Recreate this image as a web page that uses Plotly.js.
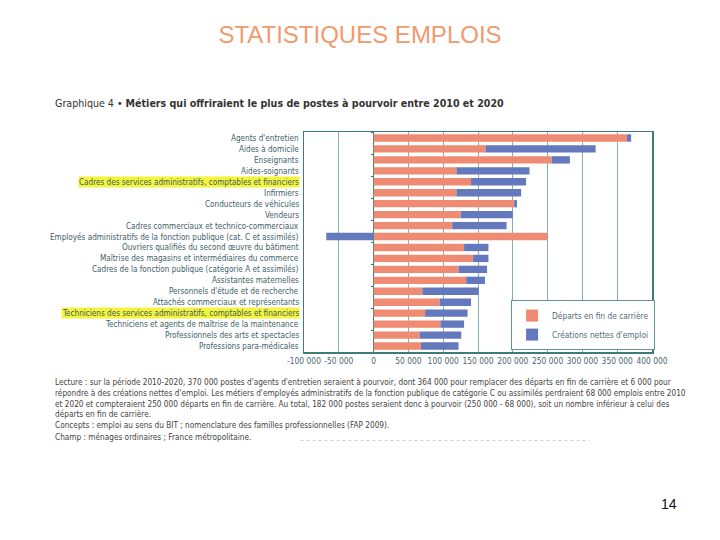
<!DOCTYPE html>
<html>
<head>
<meta charset="utf-8">
<script src="https://cdn.plot.ly/plotly-3.0.1.min.js"></script>
<style>html,body{margin:0;padding:0;background:#fff;}#chart{width:720px;height:540px;}</style>
</head>
<body>
<div id="chart"></div>
<script>
const categories = [
  "Agents d'entretien",
  "Aides à domicile",
  "Enseignants",
  "Aides-soignants",
  "Cadres des services administratifs, comptables et financiers",
  "Infirmiers",
  "Conducteurs de véhicules",
  "Vendeurs",
  "Cadres commerciaux et technico-commerciaux",
  "Employés administratifs de la fonction publique (cat. C et assimilés)",
  "Ouvriers qualifiés du second œuvre du bâtiment",
  "Maîtrise des magasins et intermédiaires du commerce",
  "Cadres de la fonction publique (catégorie A et assimilés)",
  "Assistantes maternelles",
  "Personnels d'étude et de recherche",
  "Attachés commerciaux et représentants",
  "Techniciens des services administratifs, comptables et financiers",
  "Techniciens et agents de maîtrise de la maintenance",
  "Professionnels des arts et spectacles",
  "Professions para-médicales"
];
const highlighted = [
  "Cadres des services administratifs, comptables et financiers",
  "Techniciens des services administratifs, comptables et financiers"
];
const departs = [364000, 161000, 256000, 119000, 140000, 119000, 202000, 125000, 113000, 250000,
                 130000, 143000, 122000, 133000, 70000, 95000, 74000, 96000, 66000, 68000];
const creations = [6000, 158000, 26000, 105000, 79000, 93000, 4000, 75000, 78000, -68000,
                   35000, 22000, 41000, 27000, 81000, 45000, 61000, 34000, 60000, 54000];
const seriesNames = ["Départs en fin de carrière", "Créations nettes d'emploi"];
const tickVals = [-100000, -50000, 0, 50000, 100000, 150000, 200000, 250000, 300000, 350000, 400000];
const tickLabels = ["-100 000", "-50 000", "0", "50 000", "100 000", "150 000", "200 000", "250 000", "300 000", "350 000", "400 000"];

const slideTitle = "STATISTIQUES EMPLOIS";
const chartTitle = "Graphique 4 • <b>Métiers qui offriraient le plus de postes à pourvoir entre 2010 et 2020</b>";
const notes = [
  "Lecture : sur la période 2010-2020, 370 000 postes d'agents d'entretien seraient à pourvoir, dont 364 000 pour remplacer des départs en fin de carrière et 6 000 pour",
  "répondre à des créations nettes d'emploi. Les métiers d'employés administratifs de la fonction publique de catégorie C ou assimilés perdraient 68 000 emplois entre 2010",
  "et 2020 et compteraient 250 000 départs en fin de carrière. Au total, 182 000 postes seraient donc à pourvoir (250 000 - 68 000), soit un nombre inférieur à celui des",
  "départs en fin de carrière.",
  "Concepts : emploi au sens du BIT ; nomenclature des familles professionnelles (FAP 2009).",
  "Champ : ménages ordinaires ; France métropolitaine."
];
const pageNumber = "14";

const narrow = "'DejaVu Sans Condensed', 'Liberation Sans Narrow', sans-serif";
const labelColor = "#3d6068";
const axisColor = "#3f7c76";
const notePix = [382, 393, 404, 414, 425, 437];
const xMin = -100000, xMax = 400000;

const traces = [
  {type: "bar", orientation: "h", name: seriesNames[0], y: categories, x: departs,
   marker: {color: "#EE8B72", line: {width: 0}}},
  {type: "bar", orientation: "h", name: seriesNames[1], y: categories, x: creations,
   marker: {color: "#6478BD", line: {width: 0}}},
  // invisible helper so the tick axis on the zero line is drawn
  {type: "scatter", mode: "markers", y: categories, x: departs, yaxis: "y2",
   marker: {size: 1, opacity: 0}, showlegend: false, hoverinfo: "skip"}
];

const annotations = categories.map(c => ({
  xref: "paper", yref: "y", x: -0.012, y: c, xanchor: "right", yanchor: "middle",
  text: c, showarrow: false, borderpad: 0,
  bgcolor: highlighted.includes(c) ? "#F4F43C" : "rgba(0,0,0,0)",
  font: {family: narrow, size: 8.1, color: labelColor}
}));

annotations.push({
  xref: "paper", yref: "paper", x: -0.7213, y: 1.132, xanchor: "left", yanchor: "middle",
  text: chartTitle, showarrow: false,
  font: {family: narrow, size: 10.6, color: "#333333"}
});
notes.forEach((t, i) => annotations.push({
  xref: "paper", yref: "paper", x: -0.7213, y: (352 - notePix[i]) / 220, xanchor: "left", yanchor: "middle",
  align: "left", text: t, showarrow: false,
  font: {family: narrow, size: 8.2, color: "#444444"}
}));
annotations.push({
  xref: "paper", yref: "paper", x: 1.05, y: -0.69, xanchor: "center", yanchor: "middle",
  text: pageNumber, showarrow: false,
  font: {family: "'Liberation Sans', Arial, sans-serif", size: 14, color: "#111111"}
});

const layout = {
  width: 720, height: 540,
  paper_bgcolor: "#ffffff", plot_bgcolor: "#ffffff",
  margin: {l: 304, r: 68, t: 132, b: 188},
  title: {text: slideTitle, x: 0.5, xanchor: "center", xref: "container", y: 1 - 35/540, yref: "container", yanchor: "middle",
          font: {family: "'Liberation Sans', Arial, sans-serif", size: 24, color: "#F09A6E"}},
  barmode: "relative", bargap: 0.33,
  showlegend: true,
  legend: {x: 0.595, y: 0.236, xanchor: "left", yanchor: "top", traceorder: "normal",
           bgcolor: "#ffffff", bordercolor: "#5f9590", borderwidth: 1,
           font: {family: narrow, size: 8.3, color: "#556b73"}, itemwidth: 30, tracegroupgap: 0},
  xaxis: {range: [xMin, xMax], tickvals: tickVals, ticktext: tickLabels, tickangle: 0,
          showgrid: true, gridcolor: "#86aeab", gridwidth: 1,
          zeroline: true, zerolinecolor: axisColor, zerolinewidth: 1,
          showline: true, linecolor: axisColor, linewidth: 1.5, mirror: true,
          ticks: "", tickfont: {family: narrow, size: 8.4, color: "#4c6870"}, fixedrange: true},
  yaxis: {type: "category", autorange: "reversed", showticklabels: false,
          showline: true, linecolor: axisColor, linewidth: 1.5, mirror: true,
          showgrid: false, zeroline: false, ticks: "", fixedrange: true},
  yaxis2: {overlaying: "y", anchor: "free", side: "left", position: (0 - xMin) / (xMax - xMin),
           type: "category", categoryorder: "array", categoryarray: categories,
           range: [categories.length - 0.5, -0.5], tickson: "boundaries",
           ticks: "outside", ticklen: 3, tickcolor: axisColor, tickwidth: 1,
           showticklabels: false, showline: false, showgrid: false, zeroline: false, fixedrange: true},
  annotations: annotations,
  shapes: [
    {type: "line", xref: "paper", yref: "paper", x0: -0.01, x1: 0.82, y0: -0.402, y1: -0.402,
     line: {color: "#cfcfcf", width: 1, dash: "dot"}}
  ]
};

Plotly.newPlot("chart", traces, layout, {displayModeBar: false, staticPlot: true});
</script>
</body>
</html>
